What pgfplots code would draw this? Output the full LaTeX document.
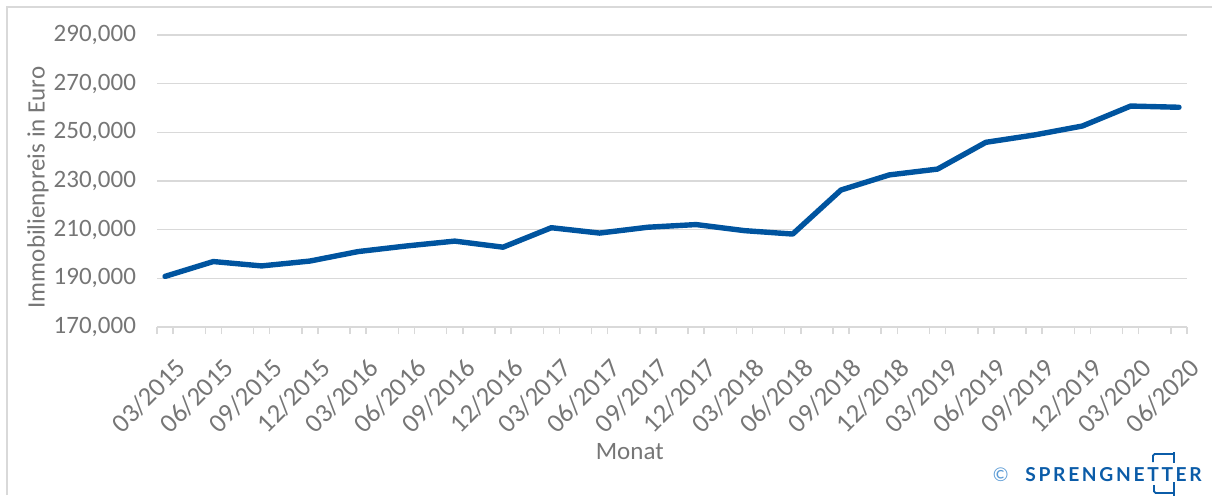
\documentclass[border=0pt]{standalone}
\usepackage{pgfplots}
\pgfplotsset{compat=1.18}
\usepackage{fontspec}
\setmainfont{Carlito}
\newfontfamily\logofont[LetterSpace=14]{Lato}
\definecolor{linecol}{HTML}{00549F}
\definecolor{gridcol}{HTML}{D9D9D9}
\definecolor{txtcol}{HTML}{767676}
\definecolor{logocol}{HTML}{0B5CA8}
\definecolor{copycol}{HTML}{5B9BD5}
\begin{document}
\begin{tikzpicture}[x=1bp,y=1bp]
\useasboundingbox (0,0) rectangle (606,247.5);
% outer chart border (top and left)
\draw[gridcol, line width=0.75bp] (3.5,0) -- (3.5,244) -- (606,244);
\begin{axis}[
  at={(78.5bp,84bp)}, anchor=south west,
  scale only axis, width=515bp, height=146bp,
  xmin=-0.5, xmax=63.5, ymin=170000, ymax=290000,
  axis x line*=bottom, axis y line*=left,
  x axis line style={gridcol, line width=0.75bp, -},
  y axis line style={draw=none},
  ytick={170000,190000,...,290000},
  ymajorgrids, grid style={gridcol, line width=0.75bp},
  scaled y ticks=false,
  /pgf/number format/.cd, fixed, 1000 sep={,}, assume math mode=true,
  /pgfplots/.cd,
  y tick label style={font=\fontsize{12.5bp}{15bp}\selectfont, text=txtcol, xshift=-7bp},
  xtick={0,3,...,63},
  xticklabels={03/2015,06/2015,09/2015,12/2015,03/2016,06/2016,09/2016,12/2016,03/2017,06/2017,09/2017,12/2017,03/2018,06/2018,09/2018,12/2018,03/2019,06/2019,09/2019,12/2019,03/2020,06/2020},
  x tick label style={font=\fontsize{13.3bp}{15bp}\selectfont, text=txtcol, inner sep=0pt, xshift=4.5bp, yshift=-14.5bp, rotate=45, anchor=north east},
  major tick length=0pt,
  minor xtick={-0.5,0.5,2.5,3.5,5.5,6.5,8.5,9.5,11.5,12.5,14.5,15.5,17.5,18.5,20.5,21.5,23.5,24.5,26.5,27.5,29.5,30.5,32.5,33.5,35.5,36.5,38.5,39.5,41.5,42.5,44.5,45.5,47.5,48.5,50.5,51.5,53.5,54.5,56.5,57.5,59.5,60.5,62.5,63.5},
  minor tick length=3.5bp,
  xtick align=outside,
  minor tick style={gridcol, line width=0.75bp},
  ylabel={Immobilienpreis in Euro},
  ylabel style={font=\fontsize{12.5bp}{15bp}\selectfont, text=txtcol, at={(axis description cs:-0.1155,0.478)}, anchor=center},
  xlabel={Monat},
  xlabel style={font=\fontsize{12.5bp}{15bp}\selectfont, text=txtcol, at={(axis description cs:0.459,-0.425)}, anchor=center},
  clip=false,
]
\addplot[linecol, line width=2.7bp, line join=round, line cap=round] coordinates {
(0,190800) (3,196900) (6,195100) (9,197100) (12,201000) (15,203300)
(18,205300) (21,202800) (24,210800) (27,208600) (30,211000) (33,212100)
(36,209600) (39,208200) (42,226300) (45,232500) (48,234900) (51,245900)
(54,248900) (57,252600) (60,260800) (63,260300)
};
\end{axis}
% logo
\node[anchor=base west, inner sep=0pt, text=copycol, font=\fontsize{10bp}{12bp}\selectfont] at (496,7) {©};
\node[anchor=base west, inner sep=0pt, text=logocol, font=\logofont\bfseries\fontsize{9.6bp}{12bp}\selectfont] at (512.5,7) {SPRENGNETTER};
\draw[logocol, line width=0.9bp, rounded corners=0.8bp] (576.5,16.5) -- (576.5,20.5) -- (587,20.5);
\draw[logocol, line width=0.9bp] (587,21.5) -- (587,16);
\draw[logocol, line width=0.9bp, rounded corners=0.8bp] (577,5) -- (577,1) -- (587,1);
\draw[logocol, line width=0.9bp] (587,6.5) -- (587,-1);
\end{tikzpicture}
\end{document}
